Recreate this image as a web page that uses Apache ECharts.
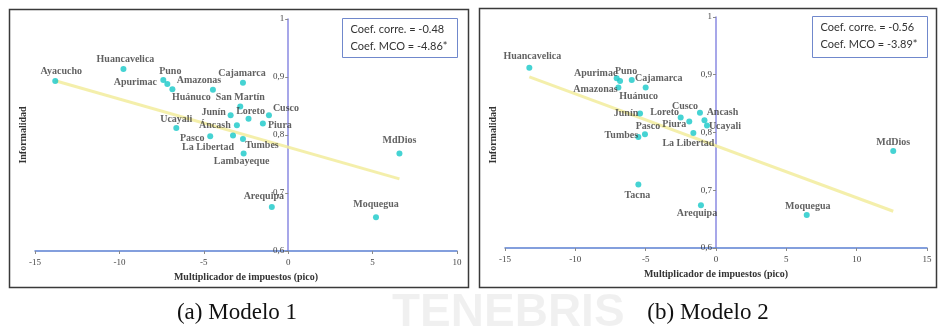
<!DOCTYPE html>
<html>
<head>
<meta charset="utf-8">
<script src="https://cdn.jsdelivr.net/npm/echarts@6/dist/echarts.min.js"></script>
<style>
  html, body { margin: 0; padding: 0; background: #fff; }
  #chart { width: 940px; height: 330px; }
</style>
</head>
<body>
<div id="chart"></div>
<script>
// Modelo 1: peak tax multiplier vs. informality by region
const regions1 = ['Ayacucho', 'Huancavelica', 'Puno', 'Apurimac', 'Huánuco', 'Amazonas', 'Cajamarca',
  'San Martín', 'Junín', 'Loreto', 'Cusco', 'Piura', 'Áncash', 'Ucayali', 'Pasco', 'La Libertad',
  'Tumbes', 'Lambayeque', 'Arequipa', 'Moquegua', 'MdDios'];
const multiplier1 = [-13.8, -9.76, -7.4, -7.16, -6.86, -4.46, -2.68, -2.84, -3.41, -2.35, -1.14, -1.5,
  -3.04, -6.63, -4.62, -3.27, -2.68, -2.64, -0.97, 5.2, 6.59];
const informality1 = [0.893, 0.914, 0.895, 0.888, 0.879, 0.878, 0.890, 0.849, 0.834, 0.828, 0.834, 0.820,
  0.817, 0.812, 0.798, 0.799, 0.793, 0.768, 0.676, 0.658, 0.768];
const trend1 = [0.779, -0.0083];           // intercept, slope of fitted line
const stats1 = ['Coef. corre. = -0.48', 'Coef. MCO = -4.86*'];

// Modelo 2
const regions2 = ['Huancavelica', 'Apurimac', 'Puno', 'Cajamarca', 'Amazonas', 'Huánuco', 'Junín', 'Loreto',
  'Cusco', 'Piura', 'Pasco', 'Tumbes', 'La Libertad', 'Ancash', 'Ucayali', 'Tacna', 'Arequipa', 'Moquegua', 'MdDios'];
const multiplier2 = [-13.27, -7.06, -6.82, -5.99, -6.94, -5.0, -5.4, -2.51, -1.14, -1.9, -5.05, -5.52, -1.61,
  -0.82, -0.64, -5.52, -1.07, 6.45, 12.6];
const informality2 = [0.912, 0.894, 0.889, 0.891, 0.878, 0.878, 0.833, 0.826, 0.834, 0.819, 0.797, 0.792, 0.799,
  0.821, 0.812, 0.710, 0.674, 0.657, 0.768];
const trend2 = [0.777, -0.009];
const stats2 = ['Coef. corre. = -0.56', 'Coef. MCO = -3.89*'];

const xTicks1 = [-15, 10, 5];   // min, max, step
const xTicks2 = [-15, 15, 5];
const yTicks = [0.6, 1, 0.1];
const xTitle = 'Multiplicador de impuestos (pico)';
const yTitle = 'Informalidad';
const captions = ['(a) Modelo 1', '(b) Modelo 2'];

// label placement around each dot (pixel offset of label centre)
const labelShift1 = [[6,-10],[2,-9],[7,-8],[-32,-2],[19,8],[-14,-9],[-1,-9],[0,-9],[-17,-3],[2,-7],[17,-7],
  [17,2],[-22,0],[0,-9],[-18,2],[-25,12],[19,6],[-2,8],[-8,-10],[0,-13],[0,-13]];
const labelShift2 = [[3,-11],[-21,-5],[6,-10],[27,-2],[-23,2],[-7,9],[-14,0],[-16,-5],[-15,-6],[-15,3],[3,-8],
  [-17,-2],[-5,10],[18,-8],[18,1],[-1,11],[-4,8],[1,-9],[0,-9]];

const SERIF = '"Liberation Serif", "DejaVu Serif", serif';
const SANS = 'Lato, "Open Sans", sans-serif';

const grids = [
  { left: 35, top: 19, width: 422, height: 232 },
  { left: 505, top: 17, width: 422, height: 231 }
];

function points(names, xs, ys, shifts) {
  return names.map((n, i) => ({
    name: n,
    value: [xs[i], ys[i]],
    label: { offset: shifts[i] }
  }));
}

function trendLine(xs, coef) {
  const lo = Math.min(...xs), hi = Math.max(...xs);
  return [[lo, coef[0] + coef[1] * lo], [hi, coef[0] + coef[1] * hi]];
}

function yFmt(v) {
  if (Math.abs(v - 1) < 1e-9) return '1';
  return v.toFixed(1).replace('.', ',');
}

function xAxis(gi, t) {
  return {
    type: 'value', gridIndex: gi, min: t[0], max: t[1], interval: t[2],
    axisLine: { onZero: false, lineStyle: { color: '#5b80d2', width: 1.5 } },
    axisTick: { show: true, length: 3, lineStyle: { color: '#8a8a8a' } },
    axisLabel: { color: '#444', fontFamily: SERIF, fontSize: 9, margin: 7 },
    splitLine: { show: false },
    name: xTitle, nameLocation: 'middle', nameGap: 21,
    nameTextStyle: { color: '#333', fontFamily: SERIF, fontSize: 10, fontWeight: 'bold' }
  };
}

// vertical axis drawn through x = 0 of the matching horizontal axis
function yAxis(gi, t) {
  const g = grids[gi];
  const shift = (0 - t[0]) / (t[1] - t[0]) * g.width;
  return {
    type: 'value', gridIndex: gi, min: yTicks[0], max: yTicks[1], interval: yTicks[2],
    offset: -shift,
    axisLine: { show: true, onZero: false, lineStyle: { color: '#8a8ae2', width: 1.5 } },
    axisTick: { show: true, length: 3, lineStyle: { color: '#8a8a8a' } },
    axisLabel: { color: '#444', fontFamily: SERIF, fontSize: 9, margin: 4, formatter: yFmt },
    splitLine: { show: false }
  };
}

const scatterStyle = {
  type: 'scatter',
  symbolSize: 6,
  itemStyle: { color: '#16c8c8' },
  z: 5,
  label: {
    show: true, position: 'inside', formatter: '{b}',
    align: 'center', verticalAlign: 'middle',
    color: '#3a3a3a', fontFamily: SERIF, fontSize: 10, fontWeight: 'bold'
  }
};

const lineStyle = {
  type: 'line', symbol: 'none', silent: true, z: 3,
  lineStyle: { color: '#f2ec9c', width: 3, opacity: 0.85 }
};

function statBox(x, y, w, h, lines) {
  return {
    type: 'group', left: x, top: y,
    children: [
      { type: 'rect', shape: { x: 0, y: 0, width: w, height: h },
        style: { fill: '#fff', stroke: '#7088cc', lineWidth: 1 } },
      { type: 'text', x: 8, y: 11, style: { text: lines[0], fill: '#333', font: '11px ' + SANS, textVerticalAlign: 'middle' } },
      { type: 'text', x: 8, y: 28, style: { text: lines[1], fill: '#333', font: '11px ' + SANS, textVerticalAlign: 'middle' } }
    ]
  };
}

const chart = echarts.init(document.getElementById('chart'), null, { renderer: 'canvas' });

chart.setOption({
  animation: false,
  backgroundColor: '#fff',
  grid: grids,
  xAxis: [xAxis(0, xTicks1), xAxis(1, xTicks2)],
  yAxis: [yAxis(0, xTicks1), yAxis(1, xTicks2)],
  series: [
    Object.assign({}, lineStyle, { xAxisIndex: 0, yAxisIndex: 0, data: trendLine(multiplier1, trend1) }),
    Object.assign({}, scatterStyle, { xAxisIndex: 0, yAxisIndex: 0, data: points(regions1, multiplier1, informality1, labelShift1) }),
    Object.assign({}, lineStyle, { xAxisIndex: 1, yAxisIndex: 1, data: trendLine(multiplier2, trend2) }),
    Object.assign({}, scatterStyle, { xAxisIndex: 1, yAxisIndex: 1, data: points(regions2, multiplier2, informality2, labelShift2) })
  ],
  graphic: [
    // faint seal lettering below the panels
    { type: 'text', left: 392, top: 290, z: -20, silent: true,
      style: { text: 'TENEBRIS', fill: 'rgba(0,0,0,0.06)', font: 'bold 46px "Liberation Sans", sans-serif' } },
    // panel frames
    { type: 'rect', left: 7, top: 7, silent: true, z: -10,
      shape: { x: 0, y: 0, width: 459, height: 278 }, style: { fill: null, stroke: '#3a3a3a', lineWidth: 1.5 } },
    { type: 'rect', left: 477, top: 6, silent: true, z: -10,
      shape: { x: 0, y: 0, width: 457, height: 279 }, style: { fill: null, stroke: '#3a3a3a', lineWidth: 1.5 } },
    // vertical axis titles
    { type: 'text', x: 23, y: 135, rotation: Math.PI / 2,
      style: { text: yTitle, fill: '#333', font: 'bold 10px ' + SERIF, textAlign: 'center', textVerticalAlign: 'middle' } },
    { type: 'text', x: 493, y: 135, rotation: Math.PI / 2,
      style: { text: yTitle, fill: '#333', font: 'bold 10px ' + SERIF, textAlign: 'center', textVerticalAlign: 'middle' } },
    // statistics boxes
    statBox(342, 18, 115, 39, stats1),
    statBox(812, 16, 115, 41, stats2),
    // sub-figure captions
    { type: 'text', x: 237, y: 313,
      style: { text: captions[0], fill: '#111', font: '23px ' + SERIF, textAlign: 'center', textVerticalAlign: 'middle' } },
    { type: 'text', x: 708, y: 313,
      style: { text: captions[1], fill: '#111', font: '23px ' + SERIF, textAlign: 'center', textVerticalAlign: 'middle' } }
  ]
});
</script>
</body>
</html>
